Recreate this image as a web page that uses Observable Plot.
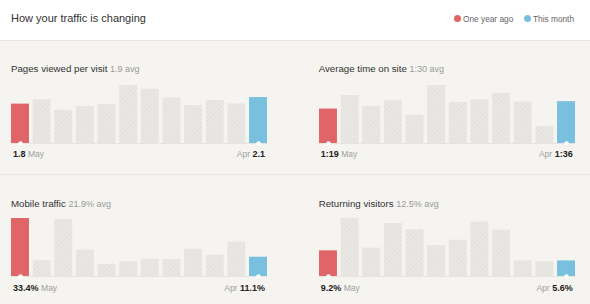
<!DOCTYPE html>
<html>
<head>
<meta charset="utf-8">
<script src="https://cdn.jsdelivr.net/npm/d3@7"></script>
<script src="https://cdn.jsdelivr.net/npm/@observablehq/plot@0.6"></script>
<style>
  html, body { margin: 0; padding: 0; }
  body { width: 590px; height: 304px; overflow: hidden; font-family: "Liberation Sans", Arial, Helvetica, sans-serif; }
  #wrap { position: relative; width: 590px; height: 304px; background: #f5f4f0; }
  #header { position: absolute; left: 0; top: 0; width: 590px; height: 41px; background: #fff; border-bottom: 1px solid #e9e7e2; box-sizing: border-box; }
  .abs { position: absolute; white-space: nowrap; }
  .title { font-size: 11px; color: #333; line-height: 12px; }
  .ptitle { font-size: 9.7px; color: #333; line-height: 12px; }
  .ptitle .avg { font-size: 9px; color: #9a9a9a; }
  .lbl { display: flex; justify-content: space-between; width: 252px; line-height: 12px; font-size: 9px; }
  .lbl b { color: #222; font-weight: bold; }
  .lbl .m { color: #a0a0a0; font-size: 8.5px; }
  .legend { font-size: 8.3px; color: #666; line-height: 12px; }
  .ldot { position: absolute; width: 7px; height: 7px; border-radius: 50%; }
  #sep { position: absolute; left: 0; top: 174px; width: 590px; height: 1px; background: #e8e6e1; }
  .chart { position: absolute; }
  .chart svg { overflow: visible; }
</style>
</head>
<body>
<svg width="0" height="0" style="position:absolute">
  <defs>
    <pattern id="hatch" patternUnits="userSpaceOnUse" width="3" height="3" patternTransform="rotate(45)">
      <rect width="3" height="3" fill="#e9e8e5"></rect>
      <rect width="1" height="3" fill="#e1e0dc"></rect>
    </pattern>
  </defs>
</svg>
<div id="wrap">
  <div id="header"></div>
  <div id="sep"></div>
</div>
<script>
// ---- data ----
const months = ["May","Jun","Jul","Aug","Sep","Oct","Nov","Dec","Jan","Feb","Mar","Apr"];
const pagesPerVisit = [1.8, 2.0, 1.52, 1.69, 1.78, 2.65, 2.48, 2.08, 1.73, 1.96, 1.81, 2.1];
const avgTimeSeconds = [79, 110, 85, 98, 65, 133, 94, 100, 115, 95, 39, 96];
const mobilePct = [33.4, 9.1, 32.8, 15.2, 7.0, 8.4, 9.9, 9.7, 15.7, 12.2, 19.8, 11.1];
const returningPct = [9.2, 20.8, 10.2, 19.0, 16.8, 11.1, 13.0, 19.5, 16.6, 5.6, 5.3, 5.6];

const panelTitles = ["Pages viewed per visit", "Average time on site", "Mobile traffic", "Returning visitors"];
const panelAvgs = ["1.9 avg", "1:30 avg", "21.9% avg", "12.5% avg"];
const firstLabels = ["1.8", "1:19", "33.4%", "9.2%"];
const lastLabels = ["2.1", "1:36", "11.1%", "5.6%"];
const headerTitle = "How your traffic is changing";
const legendLabels = ["One year ago", "This month"];

const colorPast = "#e06568";
const colorNow = "#79c0de";

// ---- layout ----
const wrap = document.getElementById("wrap");
function addDiv(cls, left, top, html) {
  const d = document.createElement("div");
  d.className = "abs " + cls;
  d.style.left = left + "px";
  d.style.top = top + "px";
  d.innerHTML = html;
  wrap.appendChild(d);
  return d;
}

addDiv("title", 11, 12, headerTitle);
// legend
const ld1 = document.createElement("div"); ld1.className = "ldot"; ld1.style.left = "453.5px"; ld1.style.top = "14.8px"; ld1.style.background = colorPast; wrap.appendChild(ld1);
addDiv("legend", 463, 12.5, legendLabels[0]);
const ld2 = document.createElement("div"); ld2.className = "ldot"; ld2.style.left = "523.5px"; ld2.style.top = "14.8px"; ld2.style.background = colorNow; wrap.appendChild(ld2);
addDiv("legend", 533, 12.5, legendLabels[1]);

const panels = [
  {values: pagesPerVisit, left: 11, baseline: 142.7, titleTop: 63},
  {values: avgTimeSeconds, left: 318.7, baseline: 142.7, titleTop: 63},
  {values: mobilePct, left: 11, baseline: 276, titleTop: 198},
  {values: returningPct, left: 318.7, baseline: 276, titleTop: 198}
];

panels.forEach((p, i) => {
  addDiv("ptitle", p.left, p.titleTop, panelTitles[i] + ' <span class="avg">' + panelAvgs[i] + '</span>');
  const data = months.map((m, j) => ({month: m, value: p.values[j], idx: j}));
  const mid = data.filter(d => d.idx > 0 && d.idx < 11);
  const first = data.filter(d => d.idx === 0);
  const last = data.filter(d => d.idx === 11);
  const chart = Plot.plot({
    width: 256,
    height: 66,
    marginTop: 2,
    marginBottom: 6,
    marginLeft: 0,
    marginRight: 0,
    x: {domain: months, paddingInner: 0.17, paddingOuter: 0, round: false, axis: null},
    y: {domain: [0, d3.max(p.values)], axis: null},
    style: {background: "transparent", overflow: "visible"},
    marks: [
      Plot.barY(mid, {x: "month", y: "value", fill: "url(#hatch)"}),
      Plot.barY(first, {x: "month", y: "value", fill: colorPast}),
      Plot.barY(last, {x: "month", y: "value", fill: colorNow}),
      Plot.ruleY([0], {stroke: "#e6e4df", strokeWidth: 1}),
      Plot.dot(first.concat(last), {x: "month", y: 0, r: 2.3, fill: "#fff", stroke: "none"})
    ]
  });
  const holder = document.createElement("div");
  holder.className = "chart";
  holder.style.left = p.left + "px";
  holder.style.top = (p.baseline - 60) + "px";
  holder.appendChild(chart);
  wrap.appendChild(holder);
  addDiv("lbl", p.left + 2, p.baseline + 5.5,
    '<span><b>' + firstLabels[i] + '</b> <span class="m">' + months[0] + '</span></span>' +
    '<span><span class="m">' + months[11] + '</span> <b>' + lastLabels[i] + '</b></span>');
});
</script>
</body>
</html>
